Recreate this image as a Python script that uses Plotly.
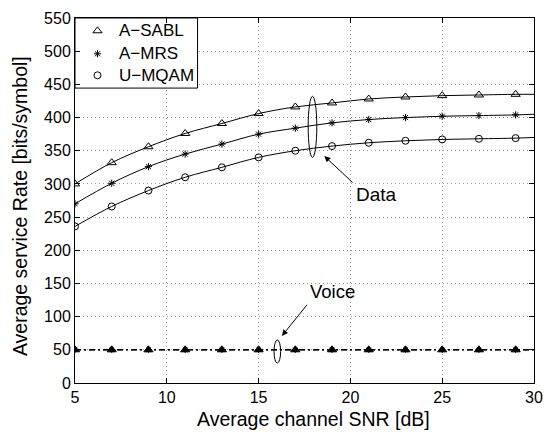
import plotly.graph_objects as go

# x positions of markers (dB)
snr_markers = [5, 7, 9, 11, 13, 15, 17, 19, 21, 23, 25, 27, 29]
# full line grid (includes right edge)
snr_line = [5, 7, 9, 11, 13, 15, 17, 19, 21, 23, 25, 27, 29, 30]

data_sabl = [300, 332, 356, 376, 391, 406, 416, 422, 428, 431, 433, 434, 435, 435]
data_mrs = [270, 301, 326, 345, 360, 375, 384, 392, 397, 400, 402, 403, 404, 405]
data_mqam = [236, 266, 290, 310, 325, 340, 350, 357, 362, 365, 367, 368, 369, 370]
voice_rate = [50] * 14

series_names = ["A\u2212SABL", "A\u2212MRS", "U\u2212MQAM"]
series_symbols = ["triangle-up-open", "asterisk-open", "circle-open"]
series_sizes = [8, 6, 7]
voice_sizes = [8, 5, 4]
series_data = [data_sabl, data_mrs, data_mqam]

x_ticks = [5, 10, 15, 20, 25, 30]
y_ticks = list(range(0, 551, 50))
X_RANGE = [5, 30]
Y_RANGE = [0, 550]

FONT = "Liberation Sans, Arial, Helvetica, sans-serif"


def fx(f):
    """axis-domain fraction -> x data value"""
    return X_RANGE[0] + f * (X_RANGE[1] - X_RANGE[0])


def fy(f):
    """axis-domain fraction -> y data value"""
    return Y_RANGE[0] + f * (Y_RANGE[1] - Y_RANGE[0])


fig = go.Figure()

n_mk = len(snr_markers)
for vals in series_data:
    fig.add_trace(go.Scatter(x=snr_line, y=vals, mode="lines", line=dict(color="black", width=1, shape="spline"),
                             showlegend=False, hoverinfo="skip"))
    fig.add_trace(go.Scatter(x=snr_line, y=voice_rate, mode="lines",
                             line=dict(color="black", width=1, dash="6px,3px,2px,3px"),
                             showlegend=False, hoverinfo="skip"))

for name, sym, sz, vsz, vals in zip(series_names, series_symbols, series_sizes, voice_sizes, series_data):
    fig.add_trace(go.Scatter(x=snr_markers, y=vals[:n_mk], mode="markers", name=name, showlegend=False,
                             marker=dict(symbol=sym, size=sz, color="black", line=dict(color="black", width=1))))
    fig.add_trace(go.Scatter(x=snr_markers, y=voice_rate[:n_mk], mode="markers", showlegend=False,
                             marker=dict(symbol=sym.replace("-open", ""), size=vsz, color="black",
                                         line=dict(color="black", width=1))))

# ---- legend (drawn by hand inside the axes, top-left; x2/y2 span 0..1 over the plot area) ----
legend_rows = [0.965, 0.902, 0.843]
fig.add_shape(type="rect", xref="x", yref="y", x0=fx(0), x1=fx(0.267), y0=fy(0.808), y1=fy(1),
              line=dict(color="black", width=1), fillcolor="white", layer="between")
for name, sym, sz, ry in zip(series_names, series_symbols, series_sizes, legend_rows):
    fig.add_trace(go.Scatter(x=[0.049], y=[ry], xaxis="x2", yaxis="y2", mode="markers", showlegend=False,
                             hoverinfo="skip",
                             marker=dict(symbol=sym, size=sz, color="black", line=dict(color="black", width=1))))
    fig.add_annotation(x=0.092, y=ry, xref="x2", yref="y2", xanchor="left", yanchor="middle",
                       text=name, showarrow=False, font=dict(size=17, color="black", family=FONT))

# ellipses
fig.add_shape(type="circle", xref="x", yref="y", x0=17.7, x1=18.17, y0=340, y1=432,
              line=dict(color="black", width=1))
fig.add_shape(type="circle", xref="x", yref="y", x0=15.84, x1=16.2, y0=30, y1=65,
              line=dict(color="black", width=1))

# arrows
fig.add_annotation(x=18.58, y=342, ax=20.2, ay=300, xref="x", yref="y", axref="x", ayref="y",
                   text="", showarrow=True, arrowhead=2, arrowsize=1.2, arrowwidth=1, arrowcolor="black")
fig.add_annotation(x=16.27, y=71, ax=17.7, ay=120, xref="x", yref="y", axref="x", ayref="y",
                   text="", showarrow=True, arrowhead=2, arrowsize=1.2, arrowwidth=1, arrowcolor="black")
fig.add_annotation(x=21.4, y=284, text="Data", showarrow=False, font=dict(size=19, color="black", family=FONT))
fig.add_annotation(x=19.05, y=138, text="Voice", showarrow=False, font=dict(size=18.5, color="black", family=FONT))

# axis titles
fig.add_annotation(x=0.519, y=-0.098, xref="x domain", yref="y domain", xanchor="center", yanchor="middle",
                   text="Average channel SNR [dB]", showarrow=False,
                   font=dict(size=19.5, color="black", family=FONT))
fig.add_annotation(x=-0.121, y=0.486, xref="x domain", yref="y domain", xanchor="center", yanchor="middle",
                   text="Average service Rate [bits/symbol]", textangle=-90, showarrow=False,
                   font=dict(size=19.5, color="black", family=FONT))

axis_common = dict(showline=True, linecolor="black", linewidth=1, mirror="ticks", ticks="inside",
                   ticklen=5, tickcolor="black", showgrid=True, gridcolor="#9a9a9a", griddash="1px,3px",
                   gridwidth=1, zeroline=False, tickfont=dict(size=16, color="black", family=FONT))

fig.update_layout(
    width=553, height=435,
    margin=dict(l=75, r=10, t=14, b=52),
    paper_bgcolor="white", plot_bgcolor="white",
    font=dict(family=FONT, color="black"),
    xaxis=dict(range=X_RANGE, tickvals=x_ticks, **axis_common),
    yaxis=dict(range=Y_RANGE, tickvals=y_ticks, **axis_common),
    xaxis2=dict(overlaying="x", range=[0, 1], visible=False, showgrid=False, zeroline=False),
    yaxis2=dict(overlaying="y", range=[0, 1], visible=False, showgrid=False, zeroline=False),
    showlegend=False,
)

fig.write_html("out.html")
